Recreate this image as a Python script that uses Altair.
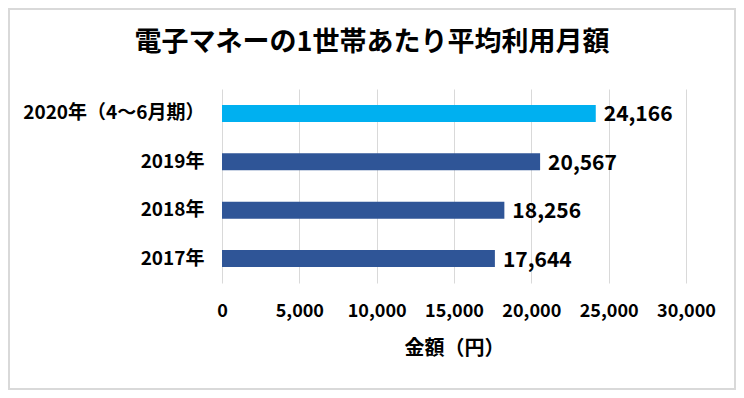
import altair as alt
import pandas as pd

categories = ["2020年（4～6月期）", "2019年", "2018年", "2017年"]
values = [24166, 20567, 18256, 17644]
colors = ["#00B0F0", "#2F5597", "#2F5597", "#2F5597"]
x_ticks = [0, 5000, 10000, 15000, 20000, 25000, 30000]
title_text = "電子マネーの1世帯あたり平均利用月額"

df = pd.DataFrame({"cat": categories, "val": values, "color": colors})
df["label"] = df["val"].map(lambda v: f"{v:,}")

FONT = "Noto Sans CJK JP"

x_enc = alt.X(
    "val:Q",
    scale=alt.Scale(domain=[0, 30000], nice=False),
    axis=alt.Axis(
        values=x_ticks, format=",.0f", title="金額（円）",
        grid=True, gridColor="#D9D9D9", domain=False, ticks=False,
        labelFontSize=18, labelFontWeight="bold", labelColor="#000000",
        labelFont=FONT, labelPadding=19, labelOverlap=False, labelFlush=False,
        titleFontSize=20, titleFontWeight="bold", titleColor="#000000",
        titleFont=FONT, titlePadding=18,
    ),
)
y_enc = alt.Y(
    "cat:N", sort=categories,
    scale=alt.Scale(paddingInner=0.65, paddingOuter=0.33),
    axis=alt.Axis(
        title=None, domain=False, ticks=False, grid=False,
        labelFontSize=19, labelFontWeight="bold", labelColor="#000000",
        labelFont=FONT, labelPadding=18, labelLimit=400,
    ),
)

base = alt.Chart(df)
bars = base.mark_bar(size=17).encode(
    x=x_enc, y=y_enc, color=alt.Color("color:N", scale=None)
)
text = base.mark_text(
    align="left", baseline="middle", dx=8, dy=2, fontSize=21,
    fontWeight="bold", font=FONT, color="#000000"
).encode(x="val:Q", y=alt.Y("cat:N", sort=categories), text="label:N")

deco = pd.DataFrame({"t": [title_text]})
border = alt.Chart(deco).mark_rect(
    fill=None, stroke="#D9D9D9", strokeWidth=2
).encode(
    x=alt.value(-213), x2=alt.value(513),
    y=alt.value(-80), y2=alt.value(300),
)
title = alt.Chart(deco).mark_text(
    align="center", baseline="middle", fontSize=27, fontWeight="bold",
    font=FONT, color="#000000"
).encode(x=alt.value(150), y=alt.value(-46), text="t:N")

chart = alt.layer(border, title, bars, text).properties(
    width=464, height=194,
    autosize=alt.AutoSizeParams(type="none"),
    padding={"left": 214, "top": 81, "right": 50, "bottom": 107},
).configure_view(stroke=None)

chart.save("out.html", embed_options={"renderer": "svg", "actions": False})
